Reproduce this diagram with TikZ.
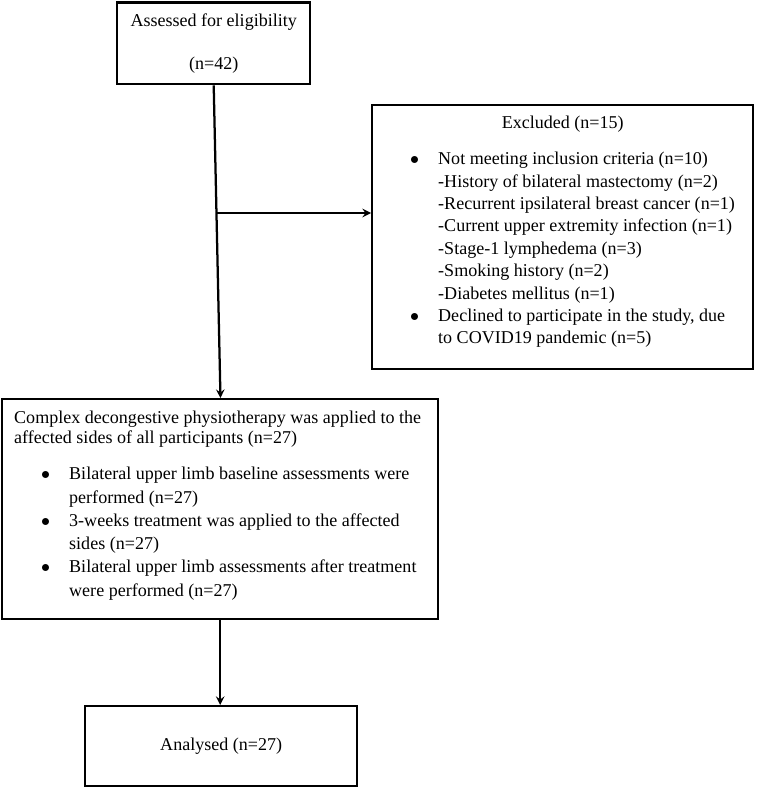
\documentclass[tikz,border=0pt]{standalone}
\usepackage{fontspec}
\setmainfont{Liberation Serif}
\newdimen\pxu \pxu=0.665pt
\newcommand{\bul}{\leavevmode\llap{$\bullet$\hspace{19\pxu}}}
\tikzset{
  box/.style={draw,line width=1.6pt,inner sep=0pt,anchor=north west},
  link/.style={->,line width=1.5pt}
}
\begin{document}
\begin{tikzpicture}[x=0.665pt,y=-0.665pt,>=stealth,font=\fontsize{12pt}{14pt}\selectfont]
	\useasboundingbox (0,0) rectangle (756,787);
	\node[box] (assess) at (116,1.5) {\parbox[c][81.5\pxu][c]{193\pxu}{\centering\baselineskip=43\pxu
		Assessed for eligibility\\(n=42)}};
	\node[box] (excl) at (371,104) {\parbox[t][264\pxu][t]{381\pxu}{\baselineskip=22.4\pxu
		\makebox[\linewidth]{\rule{0pt}{23.5\pxu}Excluded (n=15)}\par
		\vspace{13.6\pxu}\leftskip=66\pxu
		\bul Not meeting inclusion criteria (n=10)\\
		-History of bilateral mastectomy (n=2)\\
		-Recurrent ipsilateral breast cancer (n=1)\\
		-Current upper extremity infection (n=1)\\
		-Stage-1 lymphedema (n=3)\\
		-Smoking history (n=2)\\
		-Diabetes mellitus (n=1)\par
		\bul Declined to participate in the study, due\\
		to COVID19 pandemic (n=5)}};
	\node[box] (cdp) at (1,398) {\parbox[t][220\pxu][t]{436\pxu}{\baselineskip=20\pxu\leftskip=12\pxu
		\rule{0pt}{24.5\pxu}Complex decongestive physiotherapy was applied to the\\
		affected sides of all participants (n=27)\par
		\baselineskip=23.3\pxu\leftskip=67\pxu\vspace{12.7\pxu}
		\bul Bilateral upper limb baseline assessments were\\performed (n=27)\par
		\bul 3-weeks treatment was applied to the affected\\sides (n=27)\par
		\bul Bilateral upper limb assessments after treatment\\were performed (n=27)}};
	\node[box] (analysed) at (84,705) {\parbox[c][80\pxu][c]{272\pxu}{\centering Analysed (n=27)}};
	% connectors
	\coordinate (branch) at (assess.south |- 0,213);
	\draw[link] (assess.south) -- ([xshift=4.5]assess.south |- cdp.north);
	\draw[link] ([xshift=2]branch) -- (branch -| excl.west);
	\draw[link] (cdp.south) -- (cdp.south |- analysed.north);
\end{tikzpicture}
\end{document}
